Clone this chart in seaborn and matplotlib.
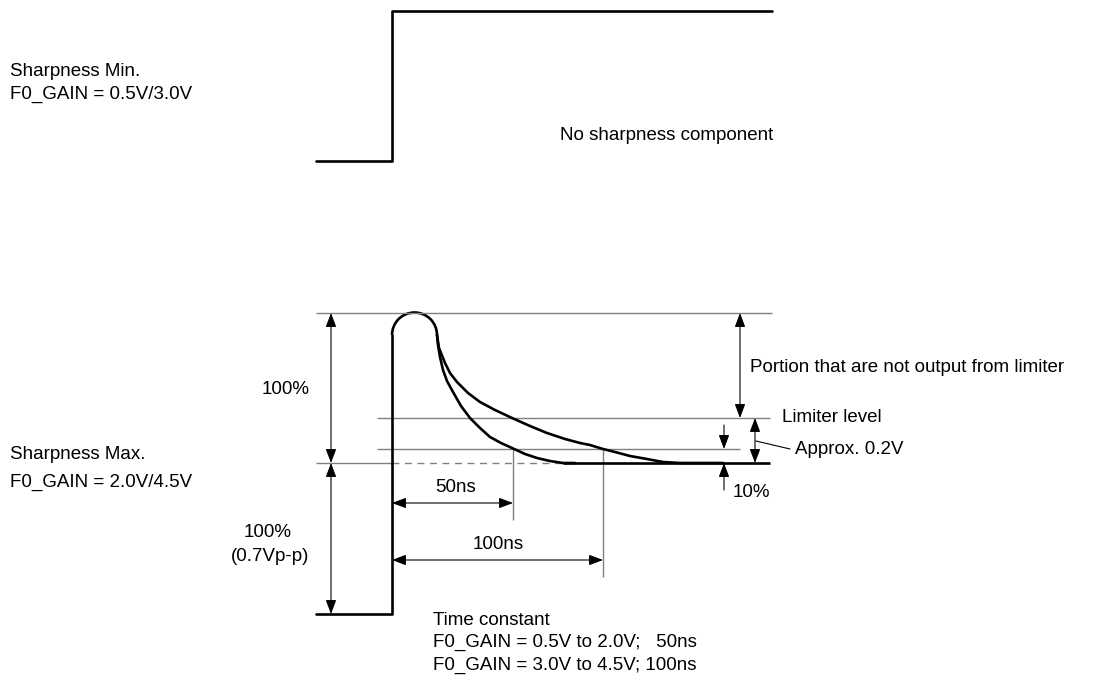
import numpy as np
import pandas as pd
import seaborn as sns
import matplotlib.pyplot as plt
from matplotlib.patches import Arc

# waveform geometry (pixel units, y down)
step_x = [316, 392, 392, 772]
step_y = [161, 161, 11, 11]

pulse_x = [316, 392, 392]
pulse_y = [614, 614, 335]
cap_cx, cap_cy, cap_r = 414.5, 335, 22.5

fast_x = [437, 438, 440, 443, 447, 453, 461, 470, 480, 490, 501, 512, 525, 537, 550, 563, 575]
fast_y = [335, 345, 357, 370, 381, 392, 406, 418, 428, 437, 443, 448, 454, 458, 461, 463, 463]
slow_x = [437, 439, 445, 450, 457, 468, 480, 495, 512, 530, 547, 565, 580, 590, 603, 615, 630,
          647, 663, 680, 697, 723]
slow_y = [335, 348, 363, 373, 382, 393, 402, 410, 418, 426, 433, 439, 443, 445, 449, 452, 456,
          459, 462, 463, 463, 463]

base_y = 463
top_y = 313
limit_y = 418
tenpct_y = 449
bottom_y = 614

labels = [
    ("Sharpness Min.", 10, 76, "left"),
    ("F0_GAIN = 0.5V/3.0V", 10, 99, "left"),
    ("No sharpness component", 773, 140, "right"),
    ("100%", 310, 394, "right"),
    ("Sharpness Max.", 10, 459, "left"),
    ("F0_GAIN = 2.0V/4.5V", 10, 487, "left"),
    ("100%", 268, 537, "center"),
    ("(0.7Vp-p)", 270, 561, "center"),
    ("50ns", 456, 492, "center"),
    ("100ns", 498, 549, "center"),
    ("Portion that are not output from limiter", 750, 372, "left"),
    ("Limiter level", 782, 422, "left"),
    ("Approx. 0.2V", 795, 454, "left"),
    ("10%", 733, 497, "left"),
    ("Time constant", 433, 625, "left"),
    ("F0_GAIN = 0.5V to 2.0V;   50ns", 433, 647, "left"),
    ("F0_GAIN = 3.0V to 4.5V; 100ns", 433, 670, "left"),
]

sns.set_style("white")
plt.rcParams['font.family'] = ['Liberation Sans', 'DejaVu Sans']

fig = plt.figure(figsize=(11.17, 6.79), dpi=100)
ax = fig.add_axes([0, 0, 1, 1])
ax.set_xlim(0, 1117)
ax.set_ylim(679, 0)
ax.axis('off')

thick = 1.9
thin = 0.8
grey = '#808080'

# reference lines
ax.hlines(top_y, 316, 772, color=grey, lw=1.0)
ax.hlines(limit_y, 377, 770, color=grey, lw=1.0)
ax.hlines(tenpct_y, 377, 740, color=grey, lw=1.0)
ax.hlines(base_y, 316, 392, color=grey, lw=1.0)
ax.hlines(base_y, 392, 563, color=grey, lw=1.0, linestyles=(0, (5, 4)))
ax.vlines(513, tenpct_y, 520, color=grey, lw=1.0)
ax.vlines(603, tenpct_y, 577, color=grey, lw=1.0)

# waveforms
sns.lineplot(x=step_x, y=step_y, sort=False, estimator=None, color='black', lw=thick, ax=ax)
sns.lineplot(x=pulse_x, y=pulse_y, sort=False, estimator=None, color='black', lw=thick, ax=ax)
# y axis is flipped, so the upper half of the circle is theta 180..360
ax.add_patch(Arc((cap_cx, cap_cy), 2 * cap_r, 2 * cap_r, theta1=180, theta2=360,
                 color='black', lw=thick))
curves = pd.DataFrame({
    'x': fast_x + slow_x,
    'y': fast_y + slow_y,
    'curve': ['fast'] * len(fast_x) + ['slow'] * len(slow_x),
})
sns.lineplot(data=curves, x='x', y='y', units='curve', estimator=None, sort=False,
             color='black', lw=thick, ax=ax)
ax.hlines(base_y, 563, 770, color='black', lw=thick)


def arrow(x0, y0, x1, y1, style='<|-|>'):
    ax.annotate('', xy=(x1, y1), xytext=(x0, y0),
                arrowprops=dict(arrowstyle=style + ',head_length=0.85,head_width=0.32',
                                mutation_scale=10, lw=thin, color='black',
                                shrinkA=0, shrinkB=0))


arrow(331, top_y, 331, base_y)
arrow(331, base_y, 331, bottom_y)
arrow(392, 503, 513, 503)
arrow(392, 560, 603, 560)
arrow(740, top_y, 740, limit_y)
arrow(755, limit_y, 755, base_y)
arrow(724, 425, 724, tenpct_y, '-|>')
arrow(724, 490, 724, base_y, '-|>')
ax.plot([756, 790], [441, 449], color='black', lw=thin)

for txt, x, y, ha in labels:
    ax.text(x, y, txt, ha=ha, va='baseline', fontsize=13.5, color='black')

fig.savefig('out.png', dpi=100)
